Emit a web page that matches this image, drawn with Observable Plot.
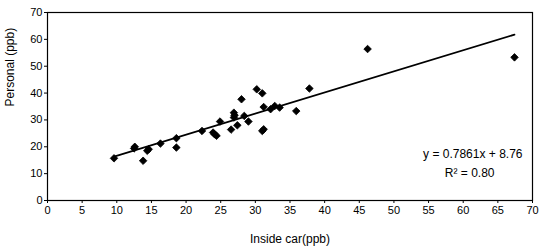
<!DOCTYPE html>
<html>
<head>
<meta charset="utf-8">
<script src="https://cdn.jsdelivr.net/npm/d3@7"></script>
<script src="https://cdn.jsdelivr.net/npm/@observablehq/plot@0.6"></script>
<style>
  html, body { margin: 0; padding: 0; background: #fff; }
  #chart svg { display: block; }
</style>
</head>
<body>
<div id="chart"></div>
<script>
const insideCar = [9.6, 12.5, 12.6, 13.8, 14.4, 14.6, 16.3, 18.6, 18.6, 22.3, 23.9, 24.1, 24.4, 24.9, 26.5, 26.9, 27.0, 26.9, 27.4, 28.0, 28.4, 29.0, 30.2, 31.0, 31.2, 31.0, 31.2, 32.2, 32.8, 33.5, 35.9, 37.8, 46.2, 67.4];
const personal  = [15.7, 19.4, 20.0, 14.8, 18.5, 19.1, 21.2, 23.2, 19.7, 25.9, 25.3, 24.7, 24.1, 29.4, 26.4, 32.7, 31.7, 30.9, 28.0, 37.7, 31.5, 29.4, 41.4, 39.9, 34.8, 25.9, 26.5, 34.0, 35.2, 34.6, 33.3, 41.7, 56.4, 53.3];
const slope = 0.7861;
const intercept = 8.76;
const eqLabels = ["y = 0.7861x + 8.76", "R² = 0.80"];
const xTicks = d3.range(0, 71, 5);
const yTicks = d3.range(0, 71, 10);

const points = insideCar.map((x, i) => ({x, y: personal[i]}));
const xMin = d3.min(insideCar), xMax = d3.max(insideCar);
const fitLine = [xMin, xMax].map(x => ({x, y: slope * x + intercept}));

const chart = Plot.plot({
  width: 542,
  height: 251,
  marginLeft: 47,
  marginRight: 10,
  marginTop: 12,
  marginBottom: 51,
  style: {fontFamily: "'Liberation Sans', Arial, sans-serif", fontSize: "11px", color: "#000", background: "#fff"},
  x: {domain: [0, 70], ticks: xTicks, label: null},
  y: {domain: [0, 70], ticks: yTicks, label: null},
  marks: [
    Plot.frame({stroke: "#000", strokeWidth: 1.2}),
    Plot.axisX({ticks: xTicks, tickSize: 3, tickPadding: 3, fontSize: 11, stroke: "#000"}),
    Plot.axisY({ticks: yTicks, tickSize: 3, tickPadding: 2, fontSize: 11, stroke: "#000"}),
    Plot.line(fitLine, {x: "x", y: "y", stroke: "#000", strokeWidth: 1.8}),
    Plot.dot(points, {x: "x", y: "y", symbol: "diamond2", r: 3.4, fill: "#000", stroke: "#000", strokeWidth: 0.8}),
    Plot.text([eqLabels[0]], {text: d => d, frameAnchor: "bottom-right", dx: -10, dy: -43, textAnchor: "end", fontSize: 12, fill: "#000"}),
    Plot.text([eqLabels[1]], {text: d => d, frameAnchor: "bottom-right", dx: -38, dy: -24, textAnchor: "end", fontSize: 12, fill: "#000"}),
    Plot.text(["Inside car(ppb)"], {text: d => d, frameAnchor: "bottom", dy: 42, fontSize: 12, fill: "#000"}),
    Plot.text(["Personal (ppb)"], {text: d => d, frameAnchor: "left", dx: -37, rotate: -90, fontSize: 12, fill: "#000"})
  ]
});
document.getElementById("chart").appendChild(chart);
</script>
</body>
</html>
